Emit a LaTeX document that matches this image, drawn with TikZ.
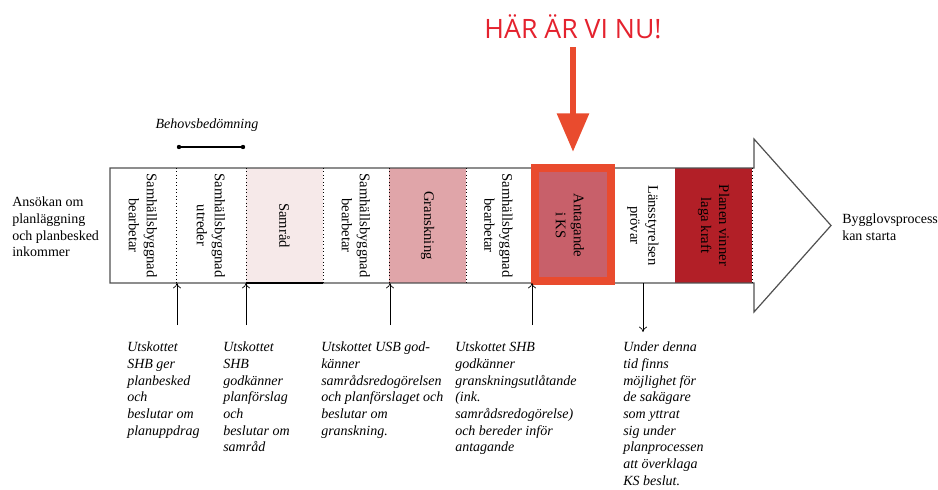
\documentclass[tikz,border=0pt]{standalone}
\usepackage{fontspec}
\setmainfont{Liberation Serif}
\newfontfamily\nufont{Open Sans}
\usetikzlibrary{arrows.meta}
\definecolor{samradfill}{RGB}{246,233,233}
\definecolor{granskfill}{RGB}{224,165,169}
\definecolor{antagfill}{RGB}{200,96,106}
\definecolor{ramred}{RGB}{233,75,46}
\definecolor{lagafill}{RGB}{178,31,39}
\definecolor{nured}{RGB}{228,34,46}
\definecolor{kontur}{RGB}{80,80,80}
\tikzset{%
  fas/.style={rotate=-90, align=center, inner sep=0pt,
              font=\fontsize{11}{13.5}\selectfont},
  notis/.style={anchor=north west, align=left, inner sep=0pt,
                font=\fontsize{10.5}{12.5}\selectfont\itshape},
  sida/.style={align=left, inner sep=0pt,
               font=\fontsize{10.5}{12.5}\selectfont},
  grans/.style={dotted, black, line width=0.6pt},
  pil/.style={-{To[length=4pt,width=6pt]}, black, line width=0.5pt},
  nupil/.style={-{Triangle[length=29pt,width=23pt]}, ramred, line width=5.2pt},
}

\begin{document}
\begin{tikzpicture}[x=0.75pt,y=-0.75pt]
              \useasboundingbox (0,0) rectangle (938,489);
              % faserna
              \fill[samradfill] (246,168) rectangle (323,283);
              \fill[granskfill] (389,168) rectangle (466,283);
              \fill[lagafill] (675,168) rectangle (752,283);
              \draw[kontur, line width=0.9pt] (110,168) -- (754,168) -- (754,139) -- (831,225.5)
                    -- (754,312) -- (754,283) -- (110,283) -- cycle;
              \foreach \x in {176,246,323,389,466,752}
                  \draw[grans] (\x,168) -- (\x,283);
              \draw[black, line width=1.3pt] (246,283) -- (323,283);
              \fill[antagfill] (531,164) rectangle (615,285);
              \draw[ramred, line width=6pt] (535,168) rectangle (611,281);
              \node[fas] (sb1) at (143,225.5) {Samhällsbyggnad\\bearbetar};
              \node[fas] (sb2) at (211,225.5) {Samhällsbyggnad\\utreder};
              \node[fas] (samrad) at (284.5,225.5) {Samråd};
              \node[fas] (sb3) at (356,225.5) {Samhällsbyggnad\\bearbetar};
              \node[fas] (gransk) at (427.5,225.5) {Granskning};
              \node[fas] (sb4) at (498.5,225.5) {Samhällsbyggnad\\bearbetar};
              \node[fas] (antag) at (570,225.5) {Antagande\\i KS};
              \node[fas] (lst) at (643,225.5) {Länsstyrelsen\\prövar};
              \node[fas] (laga) at (713.5,225.5) {Planen vinner\\laga kraft};
              % in och ut
              \node[sida, anchor=west] (ansokan) at (12,227) {Ansökan om\\planläggning\\och planbesked\\inkommer};
              \node[sida, anchor=west] (bygglov) at (842,227.5) {Bygglovsprocess\\kan starta};
              % behovsbedömning
              \node[font=\fontsize{10.5}{12.5}\selectfont\itshape] (behov) at (207,125) {Behovsbedömning};
              \coordinate (bh1) at (179,147);
              \coordinate (bh2) at (243,147);
              \draw[black, line width=0.8pt] (bh1) -- (bh2);
              \fill (bh1) circle (2.2) (bh2) circle (2.2);
              % här är vi nu
              \node[font=\nufont\fontsize{20}{20}\selectfont, text=nured, anchor=base] (nu) at (573,38) {HÄR ÄR VI NU!};
              \coordinate (nuspets) at (573,152);
              \draw[nupil, shorten <=3pt] (nu.south) -- (nuspets);
              % beslut
              \coordinate (u1) at (177,325);
              \coordinate (u2) at (246,325);
              \coordinate (u3) at (390,325);
              \coordinate (u4) at (532,325);
              \coordinate (k1) at (177,283);
              \coordinate (k2) at (246,283);
              \coordinate (k3) at (390,283);
              \coordinate (k4) at (532,283);
              \foreach \i in {1,...,4}
                  \draw[pil] (u\i) -- (k\i);
              \coordinate (k5) at (643,283);
              \coordinate (u5) at (643,332);
              \draw[pil] (k5) -- (u5);
              \node[notis] (n1) at (127,342) {Utskottet\\SHB ger\\planbesked\\och\\beslutar om\\planuppdrag};
              \node[notis] (n2) at (223,342) {Utskottet\\SHB\\godkänner\\planförslag\\och\\beslutar om\\samråd};
              \node[notis] (n3) at (321,342) {Utskottet USB god-\\känner\\samrådsredogörelsen\\och planförslaget och\\beslutar om\\granskning.};
              \node[notis] (n4) at (455,342) {Utskottet SHB\\godkänner\\granskningsutlåtande\\(ink.\\samrådsredogörelse)\\och bereder inför\\antagande};
              \node[notis] (n5) at (623,342) {Under denna\\tid finns\\möjlighet för\\de sakägare\\som yttrat\\sig under\\planprocessen\\att överklaga\\KS beslut.};
          \end{tikzpicture}
\end{document}
